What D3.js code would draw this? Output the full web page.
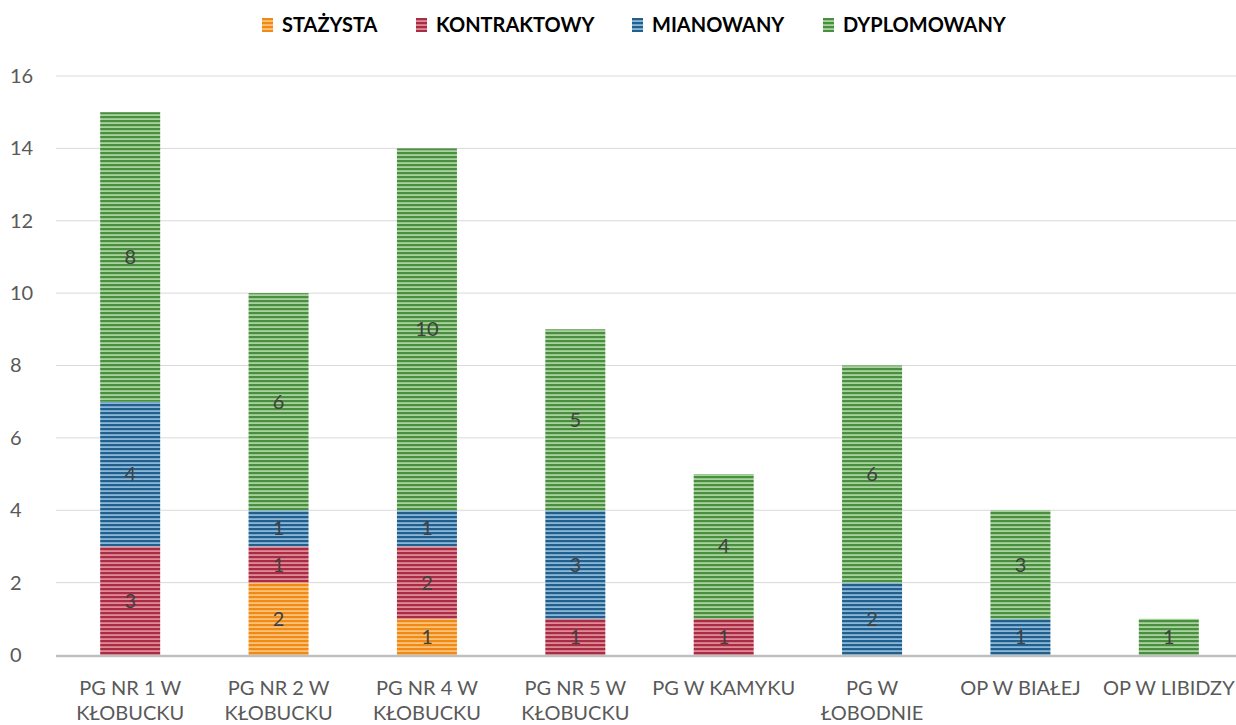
<!DOCTYPE html>
<html>
<head>
<meta charset="utf-8">
<script src="https://cdn.jsdelivr.net/npm/d3@7"></script>
<style>
  body { margin: 0; background: #fff; }
  svg { font-family: Lato, "Open Sans", sans-serif; }
</style>
</head>
<body>
<svg id="chart" width="1236" height="725"></svg>
<script>
// data
const categories = ["PG NR 1 W\nKŁOBUCKU", "PG NR 2 W\nKŁOBUCKU", "PG NR 4 W\nKŁOBUCKU", "PG NR 5 W\nKŁOBUCKU",
  "PG W KAMYKU", "PG W\nŁOBODNIE", "OP W BIAŁEJ", "OP W LIBIDZY"];
const seriesNames = ["STAŻYSTA", "KONTRAKTOWY", "MIANOWANY", "DYPLOMOWANY"];
const stazysta    = [0, 2, 1, 0, 0, 0, 0, 0];
const kontraktowy = [3, 1, 2, 1, 1, 0, 0, 0];
const mianowany   = [4, 1, 1, 3, 0, 2, 1, 0];
const dyplomowany = [8, 6, 10, 5, 4, 6, 3, 1];
const yTicks = [0, 2, 4, 6, 8, 10, 12, 14, 16];

const seriesValues = [stazysta, kontraktowy, mianowany, dyplomowany];
// dark / light stripe colours per series
const colors = [
  { dark: "#f08a14", light: "#fbc27a" },
  { dark: "#a82c44", light: "#e08a98" },
  { dark: "#235f8c", light: "#8ab8d8" },
  { dark: "#4a8f3f", light: "#a9d39e" }
];

const svg = d3.select("#chart");
const margin = { left: 56, right: 0 };
const width = 1243;

const rows = categories.map((c, i) => {
  const r = { cat: c };
  seriesNames.forEach((s, k) => r[s] = seriesValues[k][i]);
  return r;
});
const stacked = d3.stack().keys(seriesNames)(rows);

const x = d3.scaleBand().domain(categories).range([margin.left, width - margin.right]).paddingInner(0.6).paddingOuter(0.3);
const y = d3.scaleLinear().domain([0, 16]).range([655, 76]);

// striped fills
const defs = svg.append("defs");
colors.forEach((c, k) => {
  const p = defs.append("pattern")
    .attr("id", "stripe" + k)
    .attr("patternUnits", "userSpaceOnUse")
    .attr("width", 8).attr("height", 4);
  p.append("rect").attr("width", 8).attr("height", 4).attr("fill", c.light);
  p.append("rect").attr("y", 0).attr("width", 8).attr("height", 2.2).attr("fill", c.dark);
});

// gridlines
svg.append("g")
  .selectAll("line")
  .data(yTicks.filter(t => t > 0))
  .enter().append("line")
  .attr("x1", margin.left).attr("x2", 1236)
  .attr("y1", d => y(d)).attr("y2", d => y(d))
  .attr("stroke", "#d9d9d9").attr("stroke-width", 1);

// y axis labels
const yAxis = svg.append("g")
  .attr("transform", "translate(" + margin.left + ",0)")
  .call(d3.axisLeft(y).tickValues(yTicks).tickSize(0).tickPadding(24));
yAxis.select(".domain").remove();
yAxis.selectAll("text").attr("font-size", 20).attr("fill", "#595959")
  .attr("font-family", "Lato, sans-serif").attr("text-anchor", "start").attr("x", -46);

// bars
const layer = svg.append("g").selectAll("g")
  .data(stacked)
  .enter().append("g")
  .attr("fill", (d, k) => "url(#stripe" + k + ")");

const bw = 60;
layer.selectAll("rect")
  .data(d => d.filter(v => v[1] - v[0] > 0))
  .enter().append("rect")
  .attr("x", d => x(d.data.cat) + x.bandwidth() / 2 - bw / 2)
  .attr("width", bw)
  .attr("y", d => y(d[1]))
  .attr("height", d => y(d[0]) - y(d[1]));

// value labels
layer.each(function(s) {
  d3.select(this).selectAll("text")
    .data(s.filter(v => v[1] - v[0] > 0))
    .enter().append("text")
    .attr("x", d => x(d.data.cat) + x.bandwidth() / 2)
    .attr("y", d => (y(d[0]) + y(d[1])) / 2 + 7)
    .attr("text-anchor", "middle")
    .attr("font-size", 20)
    .attr("fill", "#404040")
    .text(d => d[1] - d[0]);
});

// zero axis
svg.append("line")
  .attr("x1", margin.left).attr("x2", 1236)
  .attr("y1", y(0) + 1).attr("y2", y(0) + 1)
  .attr("stroke", "#bfbfbf").attr("stroke-width", 2.5);

// category labels
const xl = svg.append("g").selectAll("text")
  .data(categories)
  .enter().append("text")
  .attr("text-anchor", "middle")
  .attr("font-size", 20)
  .attr("fill", "#595959")
  .attr("x", d => x(d) + x.bandwidth() / 2)
  .attr("y", 695);
xl.each(function(d) {
  const t = d3.select(this);
  d.split("\n").forEach((line, i) => {
    t.append("tspan").attr("x", x(d) + x.bandwidth() / 2).attr("dy", i ? 25 : 0).text(line);
  });
});

// legend
const legendX = [262, 416, 632, 823];
const lg = svg.append("g").selectAll("g")
  .data(seriesNames)
  .enter().append("g")
  .attr("transform", (d, i) => "translate(" + legendX[i] + ",18)");
lg.append("rect").attr("width", 11).attr("height", 14)
  .attr("fill", (d, i) => "url(#stripe" + i + ")");
lg.append("text").attr("x", 20).attr("y", 14)
  .attr("font-size", 20).attr("font-weight", "bold").attr("fill", "#000")
  .text(d => d);
</script>
</body>
</html>
